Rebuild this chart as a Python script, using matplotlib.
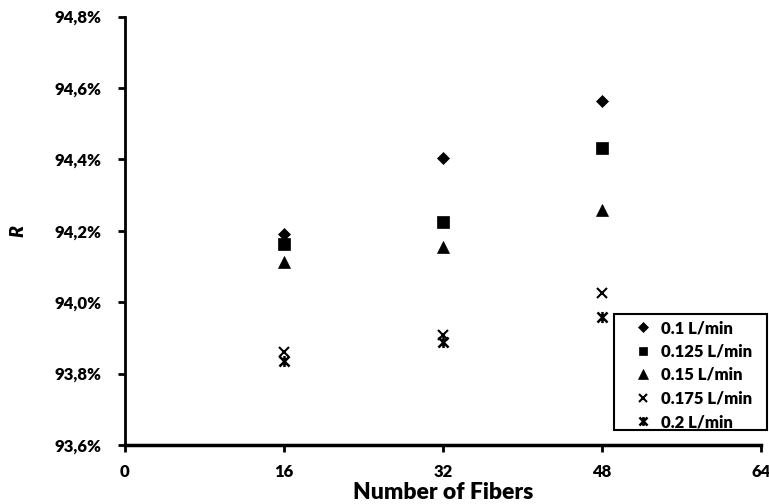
import matplotlib.pyplot as plt
import numpy as np
from matplotlib.path import Path
from matplotlib.patches import Rectangle
from matplotlib.ticker import FuncFormatter

# 数据
fibers = [16, 32, 48]
labels = ['0.1 L/min', '0.125 L/min', '0.15 L/min', '0.175 L/min', '0.2 L/min']
r_01 = [94.19, 94.405, 94.563]
r_0125 = [94.163, 94.224, 94.432]
r_015 = [94.112, 94.154, 94.258]
r_0175 = [93.860, 93.908, 94.026]
r_02 = [93.835, 93.888, 93.958]

plt.rcParams['font.family'] = ['Lato', 'DejaVu Sans']
plt.rcParams['font.weight'] = 'bold'

# excel 的星号标记: x 加一条竖线
star = Path([(-1, -1), (1, 1), (-1, 1), (1, -1), (0, -1.1), (0, 1.1)],
            [Path.MOVETO, Path.LINETO, Path.MOVETO, Path.LINETO, Path.MOVETO, Path.LINETO])

W, H = 769, 504
fig = plt.figure(figsize=(W / 100, H / 100), dpi=100)
ax = fig.add_axes([125 / W, 1 - 445 / H, 636 / W, 428.5 / H])

series = [r_01, r_0125, r_015, r_0175, r_02]
markers = ['D', 's', '^', 'x', star]
sizes = [6, 8, 9, 7.5, 8]
edges = [0.5, 0.5, 0.5, 1.5, 1.8]
for vals, lab, m, s, ew in zip(series, labels, markers, sizes, edges):
    ax.plot(fibers, vals, linestyle='none', marker=m, markersize=s, color='black',
            markeredgewidth=ew, label=lab)

ax.set_xlim(0, 64)
ax.set_ylim(93.6, 94.8)
ax.set_xticks([0, 16, 32, 48, 64])
ax.set_yticks(np.arange(93.6, 94.81, 0.2))
ax.yaxis.set_major_formatter(FuncFormatter(lambda v, p: ('%.1f%%' % v).replace('.', ',')))

for sp in ['top', 'right']:
    ax.spines[sp].set_visible(False)
ax.spines['left'].set_linewidth(2)
ax.spines['bottom'].set_linewidth(2.5)
ax.tick_params(axis='both', direction='out', width=2, length=5, labelsize=12)
ax.tick_params(axis='x', pad=9)
ax.tick_params(axis='y', pad=12)
for t in ax.get_xticklabels() + ax.get_yticklabels():
    t.set_fontweight('heavy')

ax.set_xlabel('Number of Fibers', fontsize=16.5, fontweight='heavy', labelpad=1)
ax.set_ylabel('R', fontsize=14, fontweight='heavy', style='italic', labelpad=20)

# 图例 (无边框) + 单独的矩形框
leg = ax.legend(loc='upper left', bbox_to_anchor=(636 / W, 1 - 320 / H), bbox_transform=fig.transFigure,
                frameon=False, fontsize=12, handlelength=0.8, handletextpad=0.7,
                labelspacing=0.45, borderpad=0, borderaxespad=0, markerscale=0.8)
for t in leg.get_texts():
    t.set_fontweight('heavy')
fig.patches.append(Rectangle((614 / W, 1 - 430 / H), 153 / W, 116 / H, transform=fig.transFigure,
                             fill=False, edgecolor='black', linewidth=1.5))

plt.savefig('out.png', dpi=100)
